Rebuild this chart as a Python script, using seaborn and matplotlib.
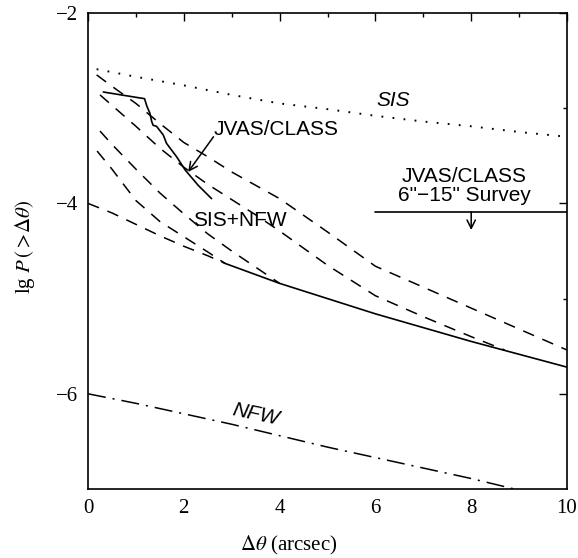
import numpy as np
import pandas as pd
import matplotlib
matplotlib.use("Agg")
import matplotlib.pyplot as plt
from matplotlib.ticker import MultipleLocator
import seaborn as sns

# ---------------- data ----------------
sis_x = [0.18, 1, 2, 3, 4, 5, 6, 7, 8, 9, 10]
sis_y = [-2.59, -2.67, -2.76, -2.86, -2.95, -3.01, -3.08, -3.14, -3.19, -3.25, -3.30]

nfw_x = [0, 1, 2, 3, 4, 5, 6, 7, 8, 8.9]
nfw_y = [-6.0, -6.10, -6.21, -6.32, -6.44, -6.56, -6.67, -6.78, -6.89, -7.0]

# SIS+NFW model curves (dashed)
m1_x = [0.18, 0.5, 1.0, 1.5, 2.0, 2.5, 3.0, 3.5, 4.0, 5.0, 6.0, 8.0, 10.0]
m1_y = [-2.65, -2.77, -2.95, -3.16, -3.36, -3.51, -3.67, -3.81, -3.95, -4.30, -4.66, -5.10, -5.54]

m2_x = [0.25, 0.5, 1.0, 1.5, 2.0, 2.5, 3.0, 3.5, 4.0, 5.0, 6.0, 7.0, 8.0, 8.7]
m2_y = [-2.86, -2.97, -3.19, -3.42, -3.62, -3.80, -3.96, -4.12, -4.29, -4.65, -4.97, -5.19, -5.40, -5.54]

m3_x = [0.25, 0.5, 1.0, 1.5, 2.0, 2.5, 3.0, 3.5, 4.0]
m3_y = [-3.24, -3.38, -3.64, -3.89, -4.11, -4.32, -4.50, -4.67, -4.84]

m4_x = [0.19, 0.5, 1.0, 1.5, 2.0, 2.5, 2.86]
m4_y = [-3.45, -3.64, -3.97, -4.19, -4.35, -4.51, -4.63]

m5_x = [0.0, 0.5, 1.0, 1.5, 2.0, 2.5, 2.86]
m5_y = [-4.0, -4.10, -4.22, -4.34, -4.45, -4.55, -4.63]

# common solid envelope
env_x = [2.86, 4.0, 6.0, 8.0, 10.0]
env_y = [-4.63, -4.84, -5.16, -5.45, -5.72]

# JVAS/CLASS observed
obs_x = [0.32, 0.81, 1.18, 1.23, 1.29, 1.33, 1.36, 1.43, 1.57, 1.64, 1.85, 2.03, 2.30, 2.58]
obs_y = [-2.83, -2.87, -2.90, -2.98, -3.05, -3.14, -3.18, -3.19, -3.28, -3.37, -3.51, -3.65, -3.81, -3.95]

# 6''-15'' survey upper limit
survey_x = [6.0, 10.0]
survey_y = [-4.09, -4.09]

x_ticks = [0, 2, 4, 6, 8, 10]
y_ticks = [-2, -4, -6]

# ---------------- style ----------------
sns.set_style("white")
plt.rcParams["font.family"] = ["Liberation Serif", "DejaVu Serif"]
plt.rcParams["mathtext.fontset"] = "stix"
plt.rcParams["lines.scale_dashes"] = False
plt.rcParams["text.color"] = "black"
plt.rcParams["axes.labelcolor"] = "black"
plt.rcParams["xtick.color"] = "black"
plt.rcParams["ytick.color"] = "black"

fig = plt.figure(figsize=(5.78, 5.58), dpi=100)
ax = fig.add_axes([88 / 578, 1 - 489 / 558, 479 / 578, 476 / 558])

DASH = (0, (8.5, 6.5))
DOT = (0, (1.3, 6.7))
DASHDOT = (0, (13, 5, 1.5, 5))


def draw(x, y, ls, lw=1.1):
    df = pd.DataFrame({"x": x, "y": y})
    sns.lineplot(data=df, x="x", y="y", ax=ax, sort=False, estimator=None,
                 errorbar=None, color="black", linewidth=lw, linestyle=ls)


draw(sis_x, sis_y, DOT, lw=1.4)
draw(nfw_x, nfw_y, DASHDOT)
for mx, my in [(m1_x, m1_y), (m2_x, m2_y), (m3_x, m3_y), (m4_x, m4_y), (m5_x, m5_y)]:
    draw(mx, my, DASH)
draw(env_x, env_y, "-", lw=1.2)
draw(obs_x, obs_y, "-", lw=1.2)
draw(survey_x, survey_y, "-", lw=1.2)

ax.set_xlim(0, 10)
ax.set_ylim(-7, -2)
ax.set_xticks(x_ticks)
ax.set_yticks(y_ticks)
ax.xaxis.set_minor_locator(MultipleLocator(1))
ax.set_yticks([-3, -5], minor=True)
ax.tick_params(which="both", direction="in", top=True, right=True,
               width=1.0, labelsize=15, color="black", labelcolor="black")
ax.tick_params(which="major", length=6, pad=7)
ax.tick_params(which="minor", length=3)
for s in ax.spines.values():
    s.set_linewidth(1.2)
    s.set_color("black")

ax.set_xlabel(r"$\Delta\theta$ (arcsec)", fontsize=15, color="black")
ax.set_ylabel(r"lg $P\,(>\!\Delta\theta)$", fontsize=15, color="black")
ax.xaxis.set_label_coords(0.42, -0.118)
ax.xaxis.label.set_va("center")
ax.yaxis.set_label_coords(-0.132, 0.508)
ax.yaxis.label.set_va("center")

sans = "Liberation Sans"
kw = dict(family=sans, fontsize=15, ha="center", va="center", color="black")
ax.text(6.37, -2.92, "SIS", style="italic", **kw)
ax.text(3.17, -4.18, "SIS+NFW", **kw)
ax.text(3.5, -6.22, "NFW", style="italic", rotation=-12, **kw)
ax.text(3.92, -3.22, "JVAS/CLASS", **kw)
ax.annotate("", xy=(2.09, -3.67), xytext=(2.62, -3.30),
            arrowprops=dict(arrowstyle="->,head_length=0.4,head_width=0.2",
                            lw=1.1, color="black", shrinkA=0, shrinkB=0,
                            mutation_scale=15))
ax.text(7.85, -3.72, "JVAS/CLASS", **kw)
ax.text(7.85, -3.92, "6\"\u221215\" Survey", **kw)
ax.annotate("", xy=(8.0, -4.28), xytext=(8.0, -4.09),
            arrowprops=dict(arrowstyle="->,head_length=0.4,head_width=0.2",
                            lw=1.1, color="black", shrinkA=0, shrinkB=0,
                            mutation_scale=15))

fig.savefig("out.png", dpi=100)
